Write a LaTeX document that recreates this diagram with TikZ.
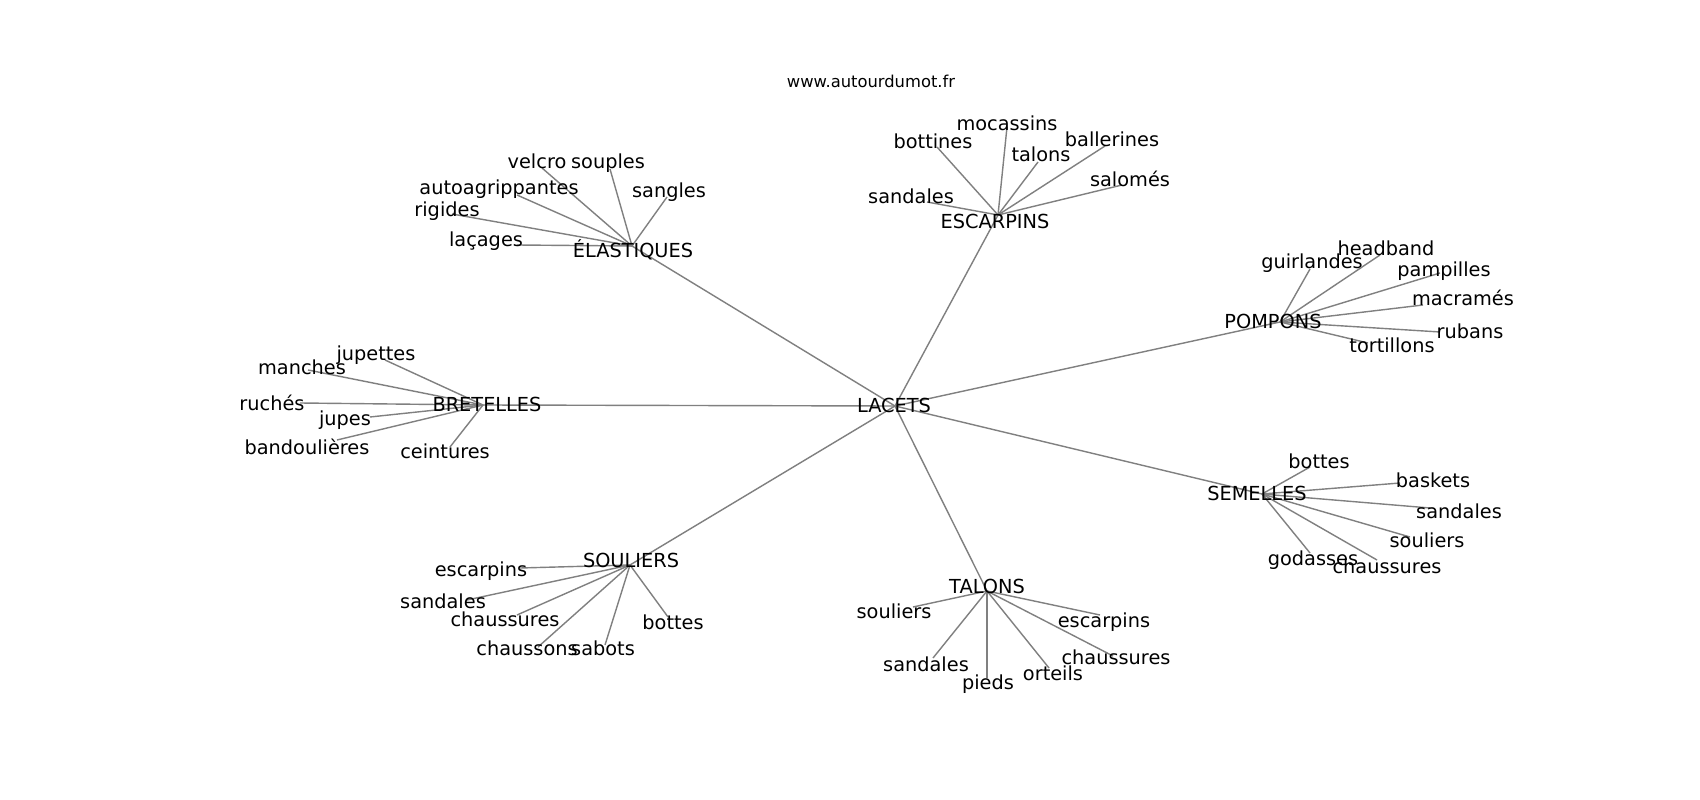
\documentclass[tikz,border=0pt]{standalone}
\usepackage{fontspec}
\setmainfont{DejaVu Sans}
\usepackage{xcolor}
\usepackage{tikz}
\usetikzlibrary{calc}

\begin{document}
\begin{tikzpicture}[x=0.02cm,y=-0.02cm,
  edge/.style={draw=gray,line width=0.8pt},
  lbl/.style={inner sep=0pt,anchor=base,font=\fontsize{11}{13}\selectfont},
  ttl/.style={inner sep=0pt,anchor=base,font=\fontsize{9.3}{11}\selectfont}]
\useasboundingbox[fill=white](0,0) rectangle (1700,800);
\node[ttl] (site) at (871,88) {www.autourdumot.fr};
% centre et branches
\coordinate (lacets) at (895,406);
\coordinate (elast) at (632,246);
\coordinate (escarp) at (998,215);
\coordinate (pompons) at (1280,322);
\coordinate (bretel) at (483,405);
\coordinate (soul) at (630,565);
\coordinate (talons) at (987,591);
\coordinate (semel) at (1262,494);
\foreach \h in {elast,escarp,pompons,bretel,soul,talons,semel}{%
\draw[edge] (lacets) -- (\h);
}
% ELASTIQUES
\foreach \px/\py/\lx/\ly/\txt [count=\i] in {542/168/537/169/velcro,
  610/169/608/169/souples, 517/195/499/195/autoagrippantes,
  452/214/447/217/rigides, 517/245/486/247/laçages,
  667/197/669/198/sangles}{%
\coordinate (elast-\i) at (\px,\py);
\draw[edge] (elast) -- (elast-\i);
\node[lbl] (elast-\i-t) at (\lx,\ly) {\txt};
}
% ESCARPINS
\foreach \px/\py/\lx/\ly/\txt [count=\i] in {927/202/911/204/sandales,
  937/147/933/149/bottines, 1007/127/1007/131/mocassins,
  1038/162/1041/162/talons, 1105/146/1112/147/ballerines,
  1122/185/1130/187/salomés}{%
\coordinate (escarp-\i) at (\px,\py);
\draw[edge] (escarp) -- (escarp-\i);
\node[lbl] (escarp-\i-t) at (\lx,\ly) {\txt};
}
% POMPONS
\foreach \px/\py/\lx/\ly/\txt [count=\i] in {1310/269/1312/269/guirlandes,
  1380/255/1386/256/headband, 1440/273/1444/277/pampilles,
  1423/305/1463/306/macramés, 1440/332/1470/338/rubans,
  1368/343/1392/353/tortillons}{%
\coordinate (pompons-\i) at (\px,\py);
\draw[edge] (pompons) -- (pompons-\i);
\node[lbl] (pompons-\i-t) at (\lx,\ly) {\txt};
}
% BRETELLES
\foreach \px/\py/\lx/\ly/\txt [count=\i] in {385/360/376/360/jupettes,
  308/370/302/375/manches, 300/403/272/410/ruchés,
  370/417/345/425/jupes, 337/440/307/454/bandoulières,
  450/447/445/458/ceintures}{%
\coordinate (bretel-\i) at (\px,\py);
\draw[edge] (bretel) -- (bretel-\i);
\node[lbl] (bretel-\i-t) at (\lx,\ly) {\txt};
}
% SOULIERS
\foreach \px/\py/\lx/\ly/\txt [count=\i] in {520/568/481/576/escarpins,
  467/600/443/608/sandales, 517/615/505/626/chaussures,
  538/647/527/655/chaussons, 605/645/603/655/sabots,
  668/617/673/629/bottes}{%
\coordinate (soul-\i) at (\px,\py);
\draw[edge] (soul) -- (soul-\i);
\node[lbl] (soul-\i-t) at (\lx,\ly) {\txt};
}
% TALONS
\foreach \px/\py/\lx/\ly/\txt [count=\i] in {913/607/894/618/souliers,
  933/658/926/671/sandales, 987/678/988/689/pieds,
  1049/668/1053/680/orteils, 1113/656/1116/664/chaussures,
  1100/615/1104/627/escarpins}{%
\coordinate (talons-\i) at (\px,\py);
\draw[edge] (talons) -- (talons-\i);
\node[lbl] (talons-\i-t) at (\lx,\ly) {\txt};
}
% SEMELLES
\foreach \px/\py/\lx/\ly/\txt [count=\i] in {1310/467/1319/468/bottes,
  1400/483/1433/487/baskets, 1430/508/1459/518/sandales,
  1410/537/1427/547/souliers, 1310/553/1313/565/godasses,
  1377/560/1387/573/chaussures}{%
\coordinate (semel-\i) at (\px,\py);
\draw[edge] (semel) -- (semel-\i);
\node[lbl] (semel-\i-t) at (\lx,\ly) {\txt};
}
% etiquettes des branches
\node[lbl] (lacets-t) at (894,412) {LACETS};
\node[lbl] (elast-t) at (633,258) {ÉLASTIQUES};
\node[lbl] (escarp-t) at (995,229) {ESCARPINS};
\node[lbl] (pompons-t) at (1273,329) {POMPONS};
\node[lbl] (bretel-t) at (487,411) {BRETELLES};
\node[lbl] (soul-t) at (631,567) {SOULIERS};
\node[lbl] (talons-t) at (987,593) {TALONS};
\node[lbl] (semel-t) at (1257,500) {SEMELLES};
\end{tikzpicture}
\end{document}
